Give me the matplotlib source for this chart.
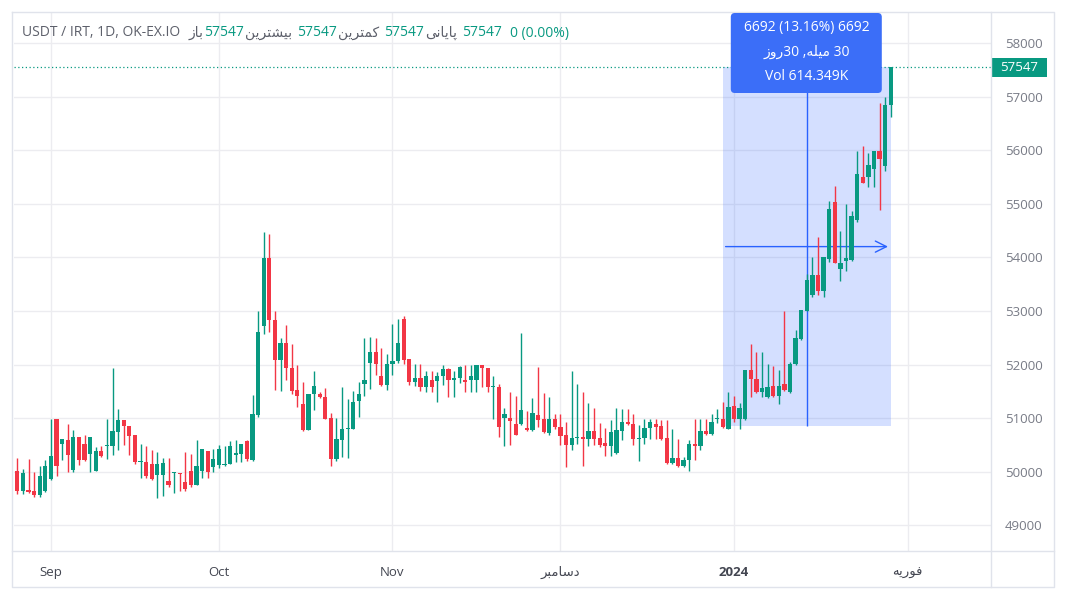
import matplotlib
matplotlib.use("Agg")
import matplotlib.pyplot as plt
from matplotlib.patches import Rectangle, FancyBboxPatch
from matplotlib.lines import Line2D
import matplotlib.transforms as mtransforms
import numpy as np
import pandas as pd

# daily candles USDT/IRT, 2023-08-26 .. 2024-01-29
dates = pd.date_range("2023-08-26", "2024-01-29", freq="D")

opens = [50011, 49644, 49660, 49644, 49563, 49644, 49862, 50994, 50515, 50590,
         50030, 50640, 50527, 50341, 50011, 50384, 50478, 50478, 50751, 50975,
         50863, 50677, 50185, 50185, 50154, 49936, 49936, 49831, 49980, 49986,
         49800, 50011, 49750, 50011, 50384, 50093, 50119, 50119, 50150, 50318,
         50337, 50567, 50225, 51052, 52713, 53994, 52825, 52078, 52408, 51935,
         51518, 51257, 50785, 51444, 51460, 51400, 50997, 50233, 50593, 50792,
         50792, 51321, 51638, 52036, 52229, 51787, 51620, 52005, 52073, 52844,
         52098, 51682, 51744, 51588, 51714, 51701, 51782, 51919, 51720, 51745,
         51714, 51720, 51720, 52000, 51938, 51577, 51590, 50999, 51000, 50893,
         50893, 50812, 50781, 51061, 50986, 50725, 50986, 50831, 50688, 50507,
         50626, 50657, 50613, 50769, 50632, 50539, 50476, 50346, 50769, 50937,
         50900, 50608, 50639, 50826, 50900, 50851, 50621, 50167, 50266, 50104,
         50217, 50515, 50478, 50757, 50702, 50981, 50994, 50807, 51220, 50977,
         50977, 51892, 51736, 51488, 51394, 51593, 51413, 51643, 51488, 52004,
         52483, 52999, 53291, 53664, 53380, 53971, 55029, 53784, 53940, 53953,
         54705, 55495, 55495, 55650, 55993, 55713, 56851]
highs = [50266, 50048, 50247, 49992, 50117, 50216, 50994, 50994, 50608, 50900,
         50776, 50640, 50683, 50658, 50465, 50477, 50994, 51927, 51162, 50975,
         50863, 50677, 50527, 50490, 50403, 50366, 50266, 50266, 50000, 49986,
         50360, 50341, 50602, 50434, 50384, 50434, 50496, 50486, 50573, 50600,
         50524, 50600, 51425, 52993, 54466, 54429, 52993, 52501, 52744, 52389,
         51985, 51674, 51444, 51879, 51480, 51557, 51091, 50997, 51576, 51358,
         51514, 51669, 52490, 52509, 52490, 52303, 52198, 52757, 52844, 52907,
         52098, 52005, 52005, 51880, 51876, 51857, 52000, 51938, 51888, 51981,
         52000, 52000, 52000, 52000, 51938, 51795, 51640, 51191, 51497, 51422,
         52591, 51142, 51378, 51963, 51465, 51403, 51080, 51080, 50924, 51888,
         51640, 51484, 51285, 51192, 50906, 50818, 50968, 51192, 51173, 51180,
         51087, 50869, 50994, 50994, 50994, 50975, 50975, 50789, 50608, 50279,
         50590, 50994, 50994, 50994, 51087, 51180, 51305, 51488, 51420, 51289,
         51892, 52377, 52234, 52234, 52004, 51967, 51892, 52999, 52047, 52650,
         53024, 53695, 54006, 54376, 54006, 55060, 55340, 54500, 54997, 54873,
         55993, 56086, 55943, 55993, 56876, 57000, 57547]
lows = [49594, 49582, 49607, 49532, 49532, 49625, 49843, 49918, 50216, 49999,
        49999, 50123, 50204, 49999, 50011, 50279, 50247, 50310, 50403, 50496,
        50310, 50154, 49893, 49893, 49843, 49520, 49545, 49719, 49607, 49650,
        49650, 49719, 49750, 49893, 49893, 49999, 50079, 50100, 50138, 50181,
        50181, 50200, 50200, 51021, 52576, 52607, 51531, 51506, 51705, 51456,
        51208, 50754, 50772, 51158, 51380, 50985, 50108, 50202, 50270, 50264,
        50792, 51028, 51414, 51538, 51806, 51600, 51526, 51806, 52024, 52011,
        51620, 51600, 51500, 51484, 51484, 51310, 51627, 51403, 51403, 51652,
        51497, 51497, 51497, 51577, 51497, 50986, 50657, 50489, 50501, 50694,
        50880, 50756, 50756, 50831, 50725, 50694, 50800, 50507, 50097, 50414,
        50520, 50116, 50489, 50507, 50470, 50302, 50302, 50333, 50601, 50869,
        50496, 50198, 50527, 50608, 50608, 50590, 50154, 50154, 50080, 50080,
        50017, 50217, 50403, 50683, 50683, 50919, 50826, 50791, 50928, 50791,
        50960, 51394, 51469, 51394, 51382, 51394, 51270, 51506, 51469, 51985,
        52451, 52999, 53260, 53291, 53260, 53909, 53890, 53555, 53754, 53940,
        54655, 55383, 55321, 55321, 54892, 55620, 56614]
closes = [49644, 49986, 49632, 49563, 49918, 50104, 50303, 50104, 50608, 50310,
          50640, 50216, 50216, 50658, 50390, 50291, 50496, 50757, 50975, 50857,
          50664, 50185, 50198, 49930, 49874, 50154, 50173, 49750, 49999, 49955,
          49688, 49750, 50104, 50434, 49999, 50247, 50430, 50150, 50486, 50337,
          50524, 50232, 51083, 52607, 53994, 52825, 52078, 52408, 51935, 51500,
          51406, 50785, 51444, 51593, 51400, 50985, 50239, 50606, 50792, 50800,
          51296, 51445, 51713, 52229, 52005, 51620, 52005, 52073, 52397, 52086,
          51682, 51744, 51588, 51794, 51577, 51795, 51919, 51714, 51751, 51963,
          51683, 51795, 52000, 51932, 51577, 51590, 50831, 51080, 50955, 50694,
          51154, 50781, 51104, 50974, 50738, 50986, 50831, 50675, 50507, 50632,
          50657, 50613, 50769, 50613, 50507, 50476, 50738, 50781, 50937, 50900,
          50608, 50639, 50826, 50938, 50838, 50608, 50167, 50266, 50104, 50229,
          50515, 50478, 50764, 50702, 50938, 51012, 50838, 51200, 50980, 51195,
          51892, 51736, 51488, 51568, 51580, 51413, 51593, 51519, 52016, 52501,
          53024, 53583, 53664, 53380, 54002, 54904, 53890, 53890, 53990, 54780,
          55557, 55383, 55731, 55993, 55837, 56851, 57547]

# date range measurement (bars 126 -> 156)
measure_start = (126, 50855)
measure_end = (156, 57547)
measure_change = 6692
measure_pct = 13.16
measure_bars = 30
measure_vol = "614.349K"

price_ticks = [49000, 50000, 51000, 52000, 53000, 54000, 55000, 56000, 57000, 58000]
month_starts = ["2023-09-01", "2023-10-01", "2023-11-01", "2023-12-01", "2024-01-01", "2024-02-01"]
# persian words written in visual order with presentation forms
dec_fa = "\uFEAE\uFE92\uFEE3\uFE8E\uFEB3\uFEA9"
feb_fa = "\uFEEA\uFBFE\uFEAD\uFEEE\uFED3"
month_labels = ["Sep", "Oct", "Nov", dec_fa, "2024", feb_fa]

up_col = "#089981"
down_col = "#f23645"
blue = "#2962ff"
grid_col = "#ececf0"
border_col = "#e0e3eb"
fonts = ["Open Sans", "DejaVu Sans"]

plt.rcParams["font.family"] = fonts

o = np.array(opens)
h = np.array(highs)
l = np.array(lows)
c = np.array(closes)
x = np.arange(len(dates))
cols = np.where(c >= o, up_col, down_col)

fig = plt.figure(figsize=(10.66, 6), dpi=100)
ax = fig.add_axes([14 / 1066, 49 / 600, 977 / 1066, 539 / 600])
ax.set_xlim(-0.6, 173.9)
ax.set_ylim(48522, 58578)

# grid
ax.set_yticks(price_ticks)
tick_pos = [(pd.Timestamp(d) - dates[0]).days for d in month_starts]
ax.set_xticks(tick_pos)
ax.set_xticklabels(month_labels)
ax.grid(True, color=grid_col, lw=1)
ax.set_axisbelow(True)
for s in ax.spines.values():
    s.set_visible(False)
ax.yaxis.tick_right()
ax.tick_params(axis="y", length=0, pad=10, labelsize=9.5, labelcolor="#787b86")
ax.tick_params(axis="x", length=0, pad=11, labelsize=9.5, labelcolor="#434651")
ax.get_xticklabels()[4].set_fontweight("bold")

# measurement box
(x0, p0), (x1, p1) = measure_start, measure_end
ax.add_patch(Rectangle((x0, p0), x1 - x0, p1 - p0, fc=blue, alpha=0.2, ec="none", zorder=1))
xm = (x0 + x1) / 2
pm = (p0 + p1) / 2
ax.vlines(xm, p0, p1, color=blue, lw=1, zorder=2)
ax.annotate("", xy=(x1, pm), xytext=(x0, pm),
            arrowprops=dict(arrowstyle="->,head_length=0.8,head_width=0.4", color=blue, lw=1),
            zorder=2)

# last price dotted line
ax.axhline(c[-1], color=up_col, lw=0.9, ls=(0, (1, 2)), zorder=2)

# candles
ax.vlines(x, l, h, colors=cols, lw=1, zorder=3)
body_lo = np.minimum(o, c)
body_h = np.maximum(np.abs(c - o), 25)
ax.bar(x, body_h, bottom=body_lo, width=0.76, color=cols, lw=0, zorder=4)

# price label on the right scale
blend = mtransforms.blended_transform_factory(ax.transAxes, ax.transData)
ax.add_patch(Rectangle((1.0, c[-1] - 180), 0.057, 360, transform=blend, fc=up_col,
                       ec="none", clip_on=False, zorder=6))
ax.text(1.0285, c[-1], f"{c[-1]}", transform=blend, ha="center", va="center",
        color="white", fontsize=9.5, clip_on=False, zorder=7)

# tooltip of the measurement
cx = ax.transData.transform((xm, 0))[0]
tip = FancyBboxPatch((cx - 76, 600 - 93), 151, 80, boxstyle="round,pad=0,rounding_size=4",
                     fc="#3b6ef8", ec="none", transform=None, zorder=10)
fig.patches.append(tip)
bar_word = "\uFEEA\uFEE0\uFBFF\uFEE3"   # میله
day_word = "\uFEAF\uFEED\uFEAD"         # روز
tip_lines = [f"{measure_change} ({measure_pct:.2f}%) {measure_change}",
             f"{day_word}{measure_bars} ,{bar_word} {measure_bars}",
             f"Vol {measure_vol}"]
for k, t in enumerate(tip_lines):
    fig.text(cx / 1066, 1 - (28 + 24 * k) / 600, t, ha="center", va="center",
             color="white", fontsize=10, zorder=11)

# header legend, pieces laid out left to right
gray = "#5d606b"
head = [("USDT / IRT, 1D, OK-EX.IO", gray, 8),
        ("\uFEAF\uFE8E\uFE91", gray, 1),
        ("57547", up_col, 1),
        ("\uFEE6\uFBFE\uFEAE\uFE98\uFEB8\uFBFF\uFE91", gray, 5),
        ("57547", up_col, 1),
        ("\uFEE6\uFBFE\uFEAE\uFE98\uFEE4\uFB90", gray, 5),
        ("57547", up_col, 1),
        ("\uFBFD\uFEE7\uFE8E\uFBFE\uFE8E\uFB58", gray, 5),
        ("57547", up_col, 8),
        ("0 (0.00%)", up_col, 0)]
renderer = fig.canvas.get_renderer()
px = 22
for t, col, gap in head:
    txt = fig.text(px / 1066, 1 - 33 / 600, t, color=col, fontsize=10, va="center")
    px += txt.get_window_extent(renderer).width + gap

# frame lines
def fline(xs, ys):
    fig.lines.append(Line2D([v / 1066 for v in xs], [1 - v / 600 for v in ys],
                            transform=fig.transFigure, color=border_col, lw=1))

fline([12, 1054, 1054, 12, 12], [12, 12, 587, 587, 12])
fline([12, 1054], [551, 551])
fline([991, 991], [12, 587])

fig.savefig("out.png", dpi=100, facecolor="white")
